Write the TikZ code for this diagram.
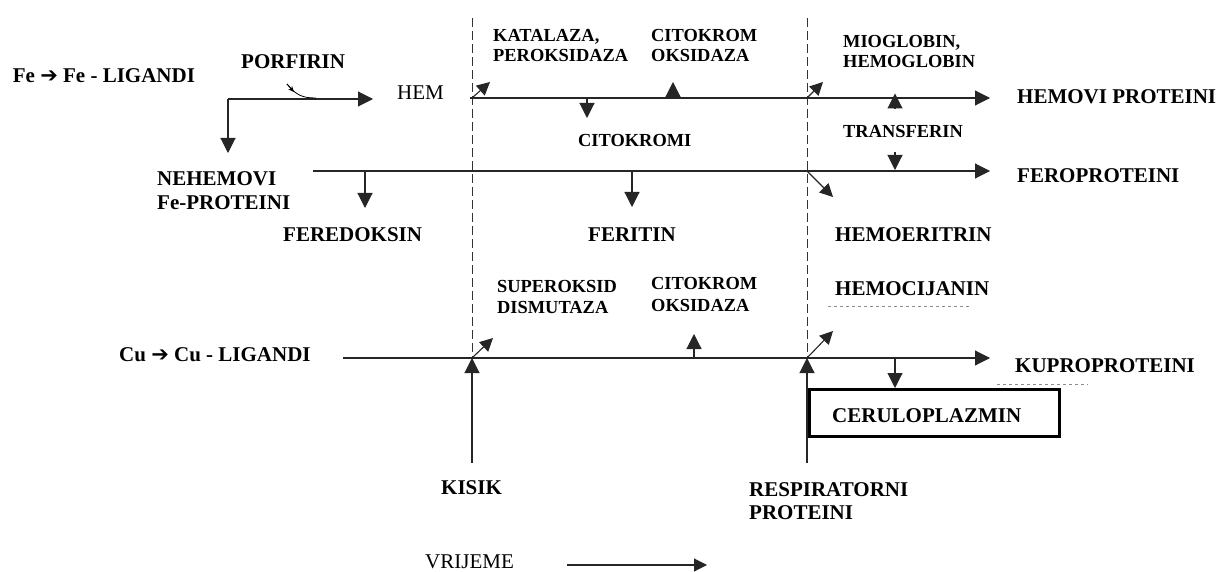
\documentclass[tikz,border=0pt]{standalone}
\usepackage{fontspec}
\setmainfont{Liberation Serif}
\newfontfamily\symfontA{DejaVu Sans}
\usetikzlibrary{arrows.meta}
\newcommand\Lbig{\fontsize{21}{24}\selectfont\bfseries}
\newcommand\Lsmall{\fontsize{18.4}{21}\selectfont\bfseries}
\newcommand\Lreg{\fontsize{21}{24}\selectfont}
\newcommand\harrowA{{\symfontA\bfseries ➔}}
\begin{document}
\begin{tikzpicture}[x=1pt,y=-1pt,
  ln/.style={line width=1.1pt, draw=black!85},
  dsh/.style={line width=0.9pt, draw=black!80, dash pattern=on 9pt off 4pt},
  arr/.style={ln, -{Triangle[length=15pt,width=15pt]}},
  darr/.style={ln, -{Triangle[length=13pt,width=13pt]}},
  ghost/.style={line width=0.8pt, draw=black!45, dash pattern=on 3pt off 3pt},
  lbl/.style={anchor=base west, inner sep=0pt, font=\Lbig},
  slbl/.style={anchor=base west, inner sep=0pt, font=\Lsmall},
  rlbl/.style={anchor=base west, inner sep=0pt, font=\Lreg},
  boxst/.style={draw, line width=3pt, inner sep=0pt}
]
\useasboundingbox (0,0) rectangle (1216,572);

% ---------- labels ----------
\node[lbl] (fe) at (12.7,83) {Fe \harrowA{} Fe - LIGANDI};
\node[lbl] (porf) at (241,68.3) {PORFIRIN};
\node[rlbl] (hem) at (397,100) {HEM};
\node[slbl] (kat1) at (493,42) {KATALAZA,};
\node[slbl] (kat2) at (493,62) {PEROKSIDAZA};
\node[slbl] (cit1) at (651,42) {CITOKROM};
\node[slbl] (cit2) at (651,62) {OKSIDAZA};
\node[slbl] (mio1) at (843,48) {MIOGLOBIN,};
\node[slbl] (mio2) at (843,68) {HEMOGLOBIN};
\node[lbl] (hemprot) at (1017,104) {HEMOVI PROTEINI};
\node[slbl] (transf) at (843,138) {TRANSFERIN};
\node[slbl] (citkr) at (578,147) {CITOKROMI};
\node[lbl] (ferprot) at (1017,183) {FEROPROTEINI};
\node[lbl] (neh1) at (157,186) {NEHEMOVI};
\node[lbl] (neh2) at (157,210) {Fe-PROTEINI};
\node[lbl] (fered) at (283,242) {FEREDOKSIN};
\node[lbl] (feritin) at (588,242) {FERITIN};
\node[lbl] (hemoer) at (835,242) {HEMOERITRIN};
\node[slbl] (sup1) at (497,292) {SUPEROKSID};
\node[slbl] (sup2) at (497,313) {DISMUTAZA};
\node[slbl] (cit3) at (651,290) {CITOKROM};
\node[slbl] (cit4) at (651,312) {OKSIDAZA};
\node[lbl] (hemocij) at (835,295) {HEMOCIJANIN};
\node[lbl] (cu) at (119,361) {Cu \harrowA{} Cu - LIGANDI};
\node[lbl] (kuprot) at (1015,372) {KUPROPROTEINI};
\node[boxst, anchor=north west, minimum width=250pt, minimum height=47pt] (cerbox) at (808,388) {};
\node[lbl] (certxt) at (832,422) {CERULOPLAZMIN};
\node[lbl] (kisik) at (441,494) {KISIK};
\node[lbl] (resp1) at (749,496) {RESPIRATORNI};
\node[lbl] (resp2) at (749,519) {PROTEINI};
\node[rlbl] (vrijeme) at (425,568) {VRIJEME};

% ---------- coordinates ----------
\coordinate (c1) at (228,99);
\coordinate (porfE) at (373,99);
\coordinate (nehT) at (228,153);
\coordinate (hemS) at (470,98);
\coordinate (hemE) at (990,98);
\coordinate (ferS) at (313,171);
\coordinate (ferE) at (990,171);
\coordinate (cuS) at (343,358);
\coordinate (cuE) at (990,358);
\coordinate (v1top) at (472,18);
\coordinate (v1a) at (472,98);
\coordinate (v1mid) at (472,358);
\coordinate (v1bot) at (472,463);
\coordinate (v2top) at (807,18);
\coordinate (v2a) at (807,98);
\coordinate (v2b) at (807,171);
\coordinate (v2mid) at (807,358);
\coordinate (v2bot) at (807,463);
\coordinate (vrS) at (567,565);
\coordinate (vrE) at (707,565);
\coordinate (cerS) at (895,358);
\coordinate (cerT) at (895,388);

% ---------- dashed time borders ----------
\draw[dsh] (v1top) -- (v1mid);
\draw[dsh] (v2top) -- (v2mid);

% ---------- main lines ----------
\draw[arr] (c1) -- (porfE);
\draw[arr] (c1) -- (nehT);
\draw[line width=0.8pt] (287,84) .. controls (296,95) and (302,98) .. (316,98);
\draw[line width=0.8pt, -{Stealth[length=6pt,width=5pt]}] (287,84) -- (294,92);
\draw[arr] (hemS) -- (hemE);
\draw[arr] (ferS) -- (ferE);
\draw[arr] (cuS) -- (cuE);
\draw[arr] (v1bot) -- (v1mid);
\draw[arr] (v2bot) -- (v2mid);
\draw[ln, -{Triangle[length=13pt,width=13pt]}] (vrS) -- (vrE);

% ---------- branch arrows ----------
\draw[darr] (v1a) -- (490,82);
\draw[darr] (v2a) -- (823,82);
\draw[darr] (v2b) -- (833,197);
\draw[darr] (v1mid) -- (493,338);
\draw[darr] (v2mid) -- (833,331);

\draw[arr] (587,98) -- (587,118);
\draw[arr] (673,98) -- (673,82);
\draw[arr] (895,108.5) -- (895,93.5);
\draw[arr] (895,152) -- (895,170);
\draw[arr] (365,171) -- (365,208);
\draw[arr] (632,171) -- (632,207);
\draw[arr] (694,358) -- (694,334);
\draw[arr] (cerS) -- (cerT);

% ---------- faint remnants ----------
\draw[ghost] (828,306) -- (970,306);
\draw[ghost] (997,384) -- (1088,384);
\end{tikzpicture}
\end{document}
